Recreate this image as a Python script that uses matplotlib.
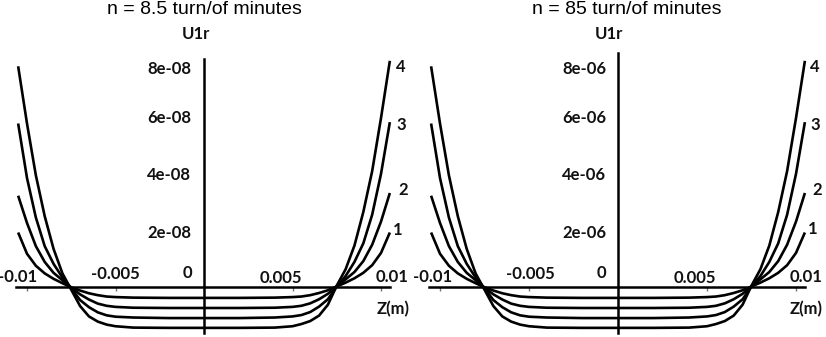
import matplotlib
matplotlib.use("Agg")
import matplotlib.pyplot as plt
import numpy as np

# ---------------- data ----------------
z = [-0.0105, -0.010, -0.0095, -0.009, -0.0085, -0.008, -0.0075, -0.007, -0.0065,
     -0.006, -0.0055, -0.005, -0.004, -0.002, 0.0, 0.002, 0.004, 0.005, 0.0055,
     0.006, 0.0065, 0.007, 0.0075, 0.008, 0.0085, 0.009, 0.0095, 0.010, 0.0105]

# values in units of the panel scale (1e-08 for left panel, 1e-06 for right panel)
u1 = [2.0, 1.22, 0.78, 0.50, 0.30, 0.14, -0.01, -0.13, -0.23, -0.30, -0.35, -0.37, -0.39,
      -0.40, -0.40, -0.40, -0.39, -0.37, -0.35, -0.30, -0.22, -0.12, 0.02, 0.16, 0.32,
      0.52, 0.80, 1.25, 2.0]
u2 = [3.35, 2.35, 1.50, 0.92, 0.52, 0.25, -0.03, -0.27, -0.46, -0.61, -0.69, -0.73, -0.76,
      -0.77, -0.77, -0.77, -0.76, -0.73, -0.69, -0.60, -0.45, -0.25, 0.02, 0.28, 0.55,
      0.95, 1.55, 2.40, 3.45]
u3 = [6.0, 4.0, 2.55, 1.50, 0.85, 0.35, -0.05, -0.48, -0.74, -0.93, -1.04, -1.09, -1.12,
      -1.14, -1.14, -1.14, -1.12, -1.08, -1.03, -0.92, -0.72, -0.45, 0.02, 0.40, 0.92,
      1.60, 2.65, 4.15, 6.05]
u4 = [8.1, 6.0, 4.1, 2.6, 1.4, 0.5, -0.1, -0.7, -1.08, -1.27, -1.38, -1.44, -1.49,
      -1.50, -1.50, -1.50, -1.49, -1.44, -1.36, -1.25, -1.05, -0.65, 0.05, 0.65, 1.52,
      2.75, 4.25, 6.2, 8.3]
curve_labels = ["1", "2", "3", "4"]

titles = ["n = 8.5 turn/of minutes", "n = 85 turn/of minutes"]
scales = [1e-08, 1e-06]
ytick_labels = [["2e-08", "4e-08", "6e-08", "8e-08"], ["2e-06", "4e-06", "6e-06", "8e-06"]]
xtick_labels = ["-0.01", "-0.005", "0", "0.005", "0.01"]

# ---------------- layout ----------------
W, H = 826, 337
fig = plt.figure(figsize=(W / 100, H / 100), dpi=100)

TICKFONT = dict(family=["Lato", "DejaVu Sans"], fontweight="bold", fontsize=12, color="#111111")
Y0 = 287.0      # pixel row of U = 0
PPU = 27.25     # pixels per scale unit

panels = [
    dict(x0=204.0, ppz=17700.0, ytop=8.35, off=0.0),
    dict(x0=618.0, ppz=17800.0, ytop=8.6, off=413.0),
]
# pixel positions of the hand-placed texts (relative to each panel's image half)
xlab_px = [(18, 277), (115, 274), (187, 273), (281, 278), (392, 277)]
xlab_px2 = [(20, 277), (117, 274), (188, 273), (282, 278), (393, 277)]
ylab_py = [233, 175, 118, 69]
ylab_right = [191, 193.3]
curve_lab_px = [(398, 230), (403, 190), (401, 125), (401, 67)]
curve_lab_px2 = [(400, 229), (404, 190), (402, 125), (402, 67)]

series = [u1, u2, u3, u4]

for i, p in enumerate(panels):
    sc = scales[i]
    xl, xr = -0.0106, 0.0105
    yb, yt = -1.69, p["ytop"]
    left_px = p["x0"] + xl * p["ppz"]
    width_px = (xr - xl) * p["ppz"]
    bottom_px = Y0 - yb * PPU
    top_px = Y0 - yt * PPU
    ax = fig.add_axes([left_px / W, (H - bottom_px) / H, width_px / W, (bottom_px - top_px) / H])
    ax.set_xlim(xl, xr)
    ax.set_ylim(yb * sc, yt * sc)
    ax.patch.set_alpha(0)

    def d(px, py, p=p, sc=sc):
        return (px - p["x0"]) / p["ppz"], (Y0 - py) / PPU * sc

    for s in series:
        ax.plot(z, np.array(s) * sc, color="black", lw=1.9, solid_capstyle="butt",
                solid_joinstyle="round", clip_on=False)

    for sp in ["top", "right"]:
        ax.spines[sp].set_visible(False)
    ax.spines["left"].set_position(("data", 0))
    ax.spines["bottom"].set_position(("data", 0))
    ax.spines["left"].set_linewidth(1.8)
    ax.spines["bottom"].set_linewidth(1.8)
    ax.set_yticks([])
    ax.set_xticks([-0.01, -0.005, 0.005, 0.01])
    ax.set_xticklabels([])
    ax.tick_params(axis="x", direction="out", length=3, width=1, color="#777777")

    off = p["off"]
    xlp = xlab_px if i == 0 else xlab_px2
    for (px, py), lab in zip(xlp, xtick_labels):
        ax.text(*d(px + off, py), lab, ha="center", va="center", clip_on=False, **TICKFONT)
    for py, lab in zip(ylab_py, ytick_labels[i]):
        ax.text(*d(ylab_right[i] + off, py), lab, ha="right", va="center", clip_on=False, **TICKFONT)
    clp = curve_lab_px if i == 0 else curve_lab_px2
    for (px, py), lab in zip(clp, curve_labels):
        ax.text(*d(px + off, py), lab, ha="center", va="center", clip_on=False, **TICKFONT)
    ax.text(*d(196 + off, 34), "U1r", ha="center", va="center", clip_on=False, **TICKFONT)
    ax.text(*d(393 + off, 309), "Z(m)", ha="center", va="center", clip_on=False, **TICKFONT)

fig.text(204 / W, 1 - 14.5 / H, titles[0], ha="center", va="baseline",
         family=["Liberation Sans", "DejaVu Sans"], fontsize=14)
fig.text(627 / W, 1 - 14.5 / H, titles[1], ha="center", va="baseline",
         family=["Liberation Sans", "DejaVu Sans"], fontsize=14)

fig.savefig("out.png", dpi=100)
